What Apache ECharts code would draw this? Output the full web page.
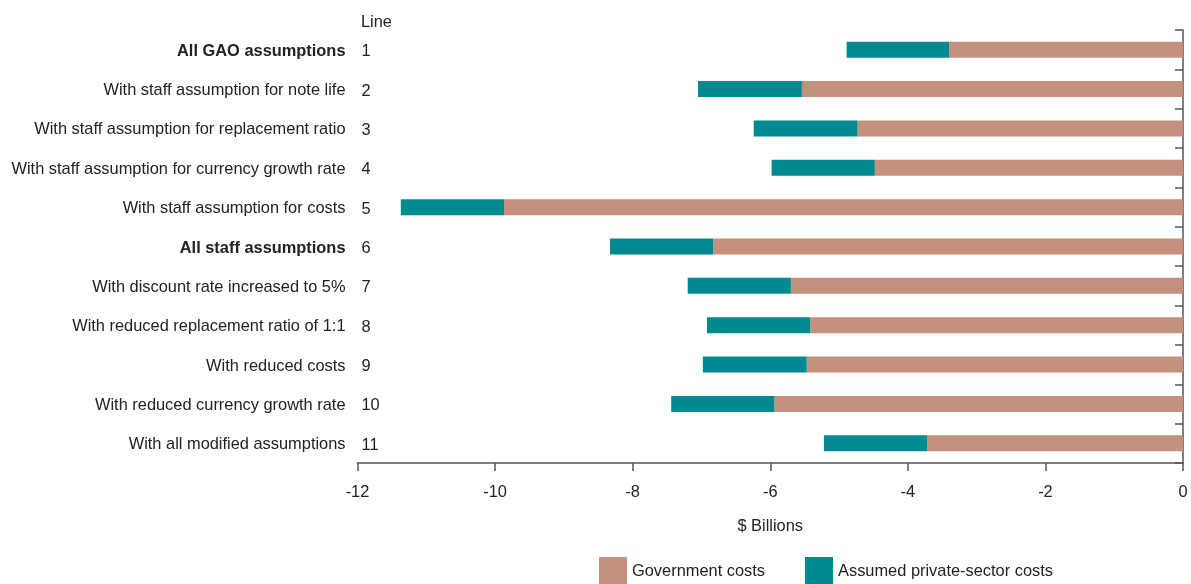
<!DOCTYPE html>
<html>
<head>
<meta charset="utf-8">
<script src="https://cdn.jsdelivr.net/npm/echarts@6/dist/echarts.min.js"></script>
<style>
html,body{margin:0;padding:0;background:#fff;}
#chart{width:1191px;height:584px;}
</style>
</head>
<body>
<div id="chart"></div>
<script>
var categories = [
  "All GAO assumptions",
  "With staff assumption for note life",
  "With staff assumption for replacement ratio",
  "With staff assumption for currency growth rate",
  "With staff assumption for costs",
  "All staff assumptions",
  "With discount rate increased to 5%",
  "With reduced replacement ratio of 1:1",
  "With reduced costs",
  "With reduced currency growth rate",
  "With all modified assumptions"
];
var lineNumbers = ["1","2","3","4","5","6","7","8","9","10","11"];
var boldRows = [0, 5];
var governmentCosts = [-3.40, -5.54, -4.73, -4.48, -9.87, -6.83, -5.70, -5.42, -5.47, -5.94, -3.72];
var privateCosts = [-1.49, -1.51, -1.51, -1.50, -1.50, -1.50, -1.50, -1.50, -1.51, -1.50, -1.50];
var xTicks = {min: -12, max: 0, interval: 2};

var FONT = "'Liberation Sans Narrow', 'Arial Narrow', 'Liberation Sans', sans-serif";
var FS = 16.4;
var TAN = '#c4917e';
var TEAL = '#008a90';

var chart = echarts.init(document.getElementById('chart'), null, {renderer: 'canvas'});
chart.setOption({
  animation: false,
  textStyle: {fontFamily: FONT},
  title: {
    text: 'Line', left: 356, top: 9,
    textStyle: {fontFamily: FONT, fontSize: FS, fontWeight: 'normal', color: '#222'}
  },
  grid: {left: 357.5, right: 8, top: 30, bottom: 121, containLabel: false},
  legend: {
    bottom: -6, left: 594,
    itemWidth: 28, itemHeight: 28, itemGap: 40,
    icon: 'rect',
    textStyle: {fontFamily: FONT, fontSize: FS, color: '#222', padding: [6, 0, 0, 0]},
    data: ['Government costs', 'Assumed private-sector costs']
  },
  xAxis: {
    type: 'value', min: xTicks.min, max: xTicks.max, interval: xTicks.interval,
    name: '$ Billions', nameLocation: 'middle', nameGap: 55,
    nameTextStyle: {fontFamily: FONT, fontSize: FS, color: '#222'},
    axisLine: {show: true, lineStyle: {color: '#555', width: 1.5}},
    axisTick: {show: true, length: 8, lineStyle: {color: '#555', width: 1.5}},
    axisLabel: {fontFamily: FONT, fontSize: FS, color: '#222', margin: 21},
    splitLine: {show: false}
  },
  yAxis: [
    {
      type: 'category', inverse: true, data: categories, position: 'left',
      axisLine: {show: false}, axisTick: {show: false},
      axisLabel: {
        margin: 12, fontFamily: FONT, fontSize: FS, color: '#222', padding: [3, 0, 0, 0],
        formatter: function (v, i) { return boldRows.indexOf(i) >= 0 ? '{b|' + v + '}' : v; },
        rich: {b: {fontFamily: FONT, fontSize: FS, fontWeight: 'bold', color: '#222'}}
      }
    },
    {
      type: 'category', inverse: true, data: lineNumbers, position: 'left',
      axisLine: {show: false}, axisTick: {show: false},
      axisLabel: {
        margin: -4, align: 'left', fontFamily: FONT, fontSize: FS, color: '#222',
        formatter: function (v) { return '{n|' + v + '}'; },
        rich: {n: {fontFamily: FONT, fontSize: FS, color: '#222', padding: [4, 0, 0, 0]}}
      }
    },
    {
      type: 'category', inverse: true, data: lineNumbers, position: 'right',
      axisLine: {show: true, lineStyle: {color: '#555', width: 1.5}},
      axisTick: {show: true, inside: true, length: 8, lineStyle: {color: '#555', width: 1.5}},
      axisLabel: {show: false}
    }
  ],
  series: [
    {
      name: 'Government costs', type: 'bar', stack: 'total', yAxisIndex: 0,
      barWidth: 16, itemStyle: {color: TAN}, data: governmentCosts
    },
    {
      name: 'Assumed private-sector costs', type: 'bar', stack: 'total', yAxisIndex: 0,
      barWidth: 16, itemStyle: {color: TEAL}, data: privateCosts
    }
  ]
});
</script>
</body>
</html>
